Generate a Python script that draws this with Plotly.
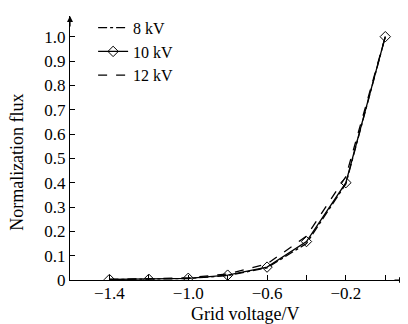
import plotly.graph_objects as go

grid_voltage = [-1.4, -1.2, -1.0, -0.8, -0.6, -0.4, -0.2, 0.0]
flux_8kv = [0.002, 0.003, 0.006, 0.018, 0.05, 0.15, 0.395, 1.0]
flux_10kv = [0.002, 0.003, 0.007, 0.02, 0.053, 0.158, 0.40, 1.0]
flux_12kv = [0.002, 0.004, 0.009, 0.025, 0.066, 0.18, 0.425, 1.0]

x_tickvals = [-1.4, -1.2, -1.0, -0.8, -0.6, -0.4, -0.2, 0.0]
x_ticktext = ["\u22121.4", "", "\u22121.0", "", "\u22120.6", "", "\u22120.2", ""]
y_tickvals = [0, 0.1, 0.2, 0.3, 0.4, 0.5, 0.6, 0.7, 0.8, 0.9, 1.0]
y_ticktext = ["0", "0.1", "0.2", "0.3", "0.4", "0.5", "0.6", "0.7", "0.8", "0.9", "1.0"]

FONT = "Liberation Serif, Times New Roman, serif"

fig = go.Figure()
fig.add_trace(go.Scatter(x=grid_voltage, y=flux_8kv, name="8 kV", mode="lines",
                         line=dict(color="black", width=1.3, dash="dashdot")))
fig.add_trace(go.Scatter(x=grid_voltage, y=flux_10kv, name="10 kV", mode="lines+markers",
                         line=dict(color="black", width=1.3),
                         marker=dict(symbol="diamond-open", size=8, color="black", line=dict(width=1))))
fig.add_trace(go.Scatter(x=grid_voltage, y=flux_12kv, name="12 kV", mode="lines",
                         line=dict(color="black", width=1.3, dash="dash")))

fig.update_layout(
    width=400, height=316,
    margin=dict(l=62, r=3, t=4, b=44),
    paper_bgcolor="white", plot_bgcolor="white",
    font=dict(family=FONT, size=17, color="black"),
    showlegend=True,
    legend=dict(x=0.069, y=1.02, xanchor="left", yanchor="top",
                bgcolor="rgba(0,0,0,0)", font=dict(size=16, family=FONT),
                tracegroupgap=0, itemwidth=30),
    xaxis=dict(range=[-1.6, 0.1], tickvals=x_tickvals, ticktext=x_ticktext,
               ticks="inside", ticklen=5, tickcolor="black", tickwidth=1,
               showline=True, linecolor="black", linewidth=1.2, ticklabelstandoff=-3,
               showgrid=False, zeroline=False, tickfont=dict(size=17, family=FONT)),
    yaxis=dict(range=[0, 1.085], tickvals=y_tickvals, ticktext=y_ticktext,
               ticks="inside", ticklen=5, tickcolor="black", tickwidth=1,
               showline=True, linecolor="black", linewidth=1.2,
               showgrid=False, zeroline=False, tickfont=dict(size=17, family=FONT)),
    annotations=[
        dict(text="Grid voltage/V", x=0.522, y=-0.082, xref="paper", yref="paper",
             xanchor="center", yanchor="top", showarrow=False, font=dict(size=18, family=FONT)),
        dict(text="Normalization flux", x=-0.158, y=0.444, xref="paper", yref="paper",
             xanchor="center", yanchor="middle", textangle=-90, showarrow=False,
             font=dict(size=18, family=FONT)),
        dict(x=0.0, y=1.0, xref="paper", yref="paper", ax=0, ay=12, axref="pixel", ayref="pixel",
             showarrow=True, arrowhead=2, arrowsize=1, arrowwidth=1.2, arrowcolor="black", text=""),
        dict(x=1.0, y=0.0, xref="paper", yref="paper", ax=-12, ay=0, axref="pixel", ayref="pixel",
             showarrow=True, arrowhead=2, arrowsize=1, arrowwidth=1.2, arrowcolor="black", text=""),
    ],
)

fig.write_html("out.html")
